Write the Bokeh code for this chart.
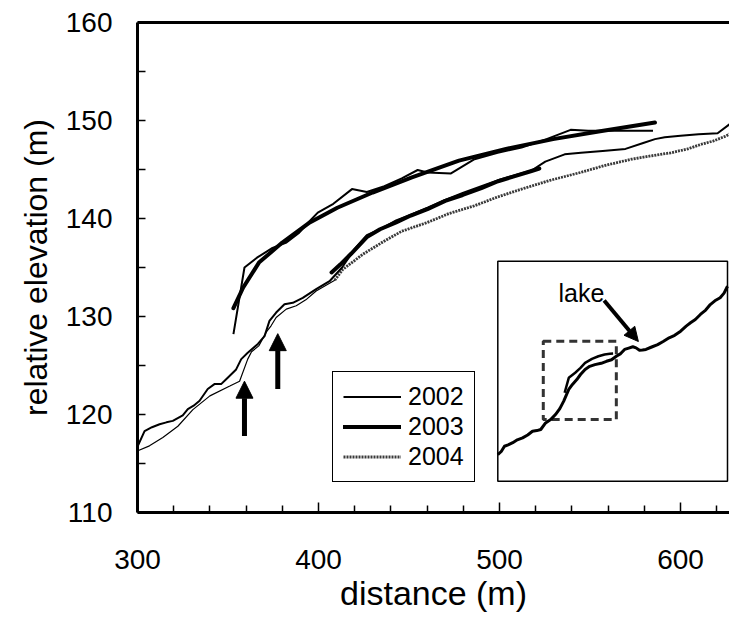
from bokeh.plotting import figure
from bokeh.models import (Range1d, LinearAxis, FixedTicker, Legend, LegendItem,
                          Arrow, NormalHead, Label, ColumnDataSource)
from bokeh.embed import file_html
from bokeh.resources import INLINE

# ---------------- data ----------------
x2002_main = [300.2, 303.9, 308, 312.2, 316, 319.5, 325, 327.8, 331, 334.3,
              338.8, 342.5, 346.2, 349, 354.5, 357.3, 360.9, 366.5, 370.2, 372.9,
              376.6, 381.2, 385.8, 391.3, 398.7, 406.1, 413, 420, 426.7, 435,
              442.9, 451, 460.2, 470, 479.7, 490, 499.2, 508, 517.7, 525.3,
              536.0, 545, 557, 569.6, 579.4, 585.9, 591.3, 600, 610, 620.5,
              627, 635.3]
y2002_main = [116.8, 118.3, 118.7, 119.0, 119.2, 119.35, 119.9, 120.55, 120.9, 121.4,
              122.6, 123.1, 123.1, 123.6, 124.6, 125.65, 126.3, 127.2, 128.0, 129.55,
              130.4, 131.25, 131.4, 131.9, 132.8, 133.6, 135.0, 136.9, 138.3, 139.0,
              139.8, 140.4, 141.1, 141.9, 142.6, 143.3, 143.9, 144.4, 144.9, 145.8,
              146.55, 146.7, 146.9, 147.1, 147.7, 148.1, 148.3, 148.45, 148.6, 148.7,
              149.6, 149.85]

x2002_upper = [353.0, 359.1, 366.0, 374.6, 382.3, 389, 395.2, 399.6, 408.2, 418.5,
               426.7, 436.4, 446, 454.8, 460.2, 473.2, 486.2, 499, 512.2, 526,
               539.3, 549.0, 565, 584.8]
y2002_upper = [128.2, 135.0, 136.0, 137.0, 137.55, 138.5, 139.75, 140.6, 141.5, 143.0,
               142.7, 143.3, 144.1, 144.95, 144.7, 144.6, 146.05, 146.7, 147.25, 148.1,
               149.05, 148.95, 148.95, 148.95]

x2003_upper = [353.0, 358.4, 367.1, 380.0, 395.2, 410.4, 429.9, 451.6, 477.6, 503.6,
               529.6, 555.6, 585.9]
y2003_upper = [130.85, 132.96, 135.5, 137.55, 139.6, 141.1, 142.65, 144.2, 145.9, 147.1,
               148.1, 148.9, 149.8]

x2003_mid = [407.2, 412, 418, 426.7, 434, 442.9, 451, 460.2, 470, 479.7,
             490, 499.2, 508, 517.7, 522]
y2003_mid = [134.5, 135.3, 136.4, 138.1, 138.9, 139.6, 140.3, 140.95, 141.8, 142.4,
             143.1, 143.8, 144.3, 144.85, 145.1]

x2004 = [300.2, 306.6, 314, 322.3, 330.6, 340, 351, 356.4, 360.9, 363,
         367, 371.1, 373.8, 376.6, 382.2, 387.7, 393, 398.7, 406.1, 409,
         413.4, 424.5, 435.5, 446, 460.2, 472, 486.2, 499, 512.2, 528,
         544.8, 558, 572.9, 584, 594.6, 604, 611.9, 618, 624.9, 630, 635.3]
y2004 = [116.3, 116.8, 117.65, 118.8, 120.5, 121.9, 122.9, 123.4, 125.65, 126.4,
         127.0, 128.4, 129.05, 129.9, 130.75, 131.1, 131.7, 132.6, 133.4, 133.7,
         134.8, 136.35, 137.6, 138.7, 139.6, 140.5, 141.3, 142.2, 143.0, 143.9,
         144.7, 145.4, 146.05, 146.4, 146.7, 147.1, 147.6, 147.9, 148.4, 148.9,
         149.3]
split_2004 = 19  # where the thin lower trace turns into the dotted trace

arrow_x = [359.1, 377.5]
arrow_y_start = [117.8, 122.6]
arrow_y_end = [123.4, 128.25]

x_ticks = [300, 400, 500, 600]
x_minor = [320, 340, 360, 380, 420, 440, 460, 480, 520, 540, 560, 580, 620]
y_ticks = [110, 120, 130, 140, 150, 160]
y_minor = [115, 125, 135, 145, 155]

# inset (schematic units, 0..100 across the inset box)
inset_x = [0, 1.5, 2.9, 4.5, 6.5, 8.5, 10.8, 13, 15.1, 17,
           18.7, 20.8, 23, 25.1, 27, 28.7, 30.9, 32.5, 34.4, 36,
           38.0, 40, 42.3, 45, 47.3, 49.5, 51.6, 53.5, 55.2, 57,
           58.8, 60.2, 61.7, 63, 64.5, 67, 69.6, 72, 74.6, 77,
           79.6, 82, 83.9, 86, 88.2, 90.5, 92.5, 94.5, 96.8, 98.5, 100]
inset_y = [12.1, 13.5, 15.9, 16.5, 17.5, 18.8, 19.7, 21.0, 22.7, 23.0,
           23.5, 26.5, 28.0, 30.3, 33.0, 36.4, 41.7, 44.0, 46.2, 48.5,
           50.8, 52.2, 53.0, 53.6, 54.5, 55.2, 56.8, 58.0, 59.9, 60.5,
           61.1, 60.6, 59.5, 59.6, 59.9, 61.0, 62.1, 63.5, 65.2, 66.3,
           68.2, 70.5, 72.0, 73.5, 75.8, 77.8, 80.3, 82.0, 83.4, 85.5, 88.6]
inset_upper_x = [29.1, 30.9, 33.7, 36, 38.0, 41, 43.8, 46.5, 48.8, 50.2]
inset_upper_y = [40.2, 47.0, 49.3, 51.5, 53.8, 55.6, 56.8, 57.6, 57.9, 58.0]
inset_zoom_x = [19.8, 51.6]
inset_zoom_y = [28.0, 63.6]
lake_text_xy = [36.4, 85.7]
lake_arrow = [46.3, 82.1, 61.2, 63.5]

# ---------------- layout ----------------
FONT = "Liberation Sans"
W, H = 729, 619
FRAME_L, FRAME_T = 137, 22
FRAME_W, FRAME_H = W - FRAME_L, 490
# inset box position in frame pixels (from frame's top-left)
IN_L, IN_R, IN_T, IN_B = 360.3, 590.0, 238.7, 458.7

p = figure(width=W, height=H, output_backend="svg", toolbar_location=None,
           x_range=Range1d(300, 300 + FRAME_W / 1.81), y_range=Range1d(110, 160),
           min_border_left=FRAME_L, min_border_right=0, min_border_top=FRAME_T,
           min_border_bottom=H - FRAME_T - FRAME_H,
           x_axis_label="distance (m)", y_axis_label="relative elevation (m)")
p.outline_line_color = None
p.xgrid.visible = False
p.ygrid.visible = False
p.background_fill_color = "white"
p.border_fill_color = "white"

sx = 100.0 / (IN_R - IN_L)
sy = 100.0 / (IN_B - IN_T)
p.extra_x_ranges = {"ix": Range1d(-IN_L * sx, (FRAME_W - IN_L) * sx)}
p.extra_y_ranges = {"iy": Range1d((IN_B - FRAME_H) * sy, IN_B * sy)}

for ax in (p.xaxis[0], p.yaxis[0]):
    ax.axis_line_width = 3
    ax.axis_line_color = "black"
    ax.major_tick_out = 0
    ax.minor_tick_out = 0
    ax.major_tick_line_width = 1.5
    ax.minor_tick_line_width = 1.5
    ax.major_tick_line_color = "black"
    ax.minor_tick_line_color = "black"
    ax.major_label_text_font = FONT
    ax.major_label_text_font_size = "28px"
    ax.major_label_text_color = "black"
    ax.axis_label_text_font = FONT
    ax.axis_label_text_font_style = "normal"
    ax.axis_label_text_color = "black"

xa = p.xaxis[0]
xa.ticker = FixedTicker(ticks=x_ticks, minor_ticks=x_minor)
xa.major_tick_in = 10
xa.minor_tick_in = 7
xa.major_label_standoff = 37
xa.axis_label_standoff = 2
xa.axis_label_text_font_size = "34px"

ya = p.yaxis[0]
ya.ticker = FixedTicker(ticks=y_ticks, minor_ticks=y_minor)
ya.major_tick_in = 8
ya.minor_tick_in = 8
ya.major_label_standoff = 25
ya.axis_label_standoff = 9
ya.axis_label_text_font_size = "32px"

top = LinearAxis(ticker=FixedTicker(ticks=[]), axis_line_width=3,
                 major_label_text_font_size="0px", major_tick_line_color=None,
                 minor_tick_line_color=None, major_label_standoff=0)
p.add_layout(top, "above")

# ---------------- main profiles ----------------
p.line(x2004[:split_2004 + 1], y2004[:split_2004 + 1],
       line_color="black", line_width=1.2)
r2004 = p.line(x2004[split_2004:], y2004[split_2004:], line_color="#3a3a3a",
               line_width=2.8, line_dash="2 1")
r2002 = p.line(x2002_main, y2002_main, line_color="black", line_width=2,
               line_join="round")
p.line(x2002_upper, y2002_upper, line_color="black", line_width=2, line_join="round")
r2003 = p.line(x2003_upper, y2003_upper, line_color="black", line_width=4,
               line_join="round", line_cap="round")
p.line(x2003_mid, y2003_mid, line_color="black", line_width=4,
       line_join="round", line_cap="round")

arrows = ColumnDataSource(dict(x=arrow_x, y0=arrow_y_start, y1=arrow_y_end))
p.add_layout(Arrow(end=NormalHead(size=17, fill_color="black", line_color="black"),
                   x_start="x", y_start="y0", x_end="x", y_end="y1",
                   source=arrows, line_width=5, line_color="black"))

# ---------------- inset ----------------
p.quad(left=[0], right=[100], bottom=[0], top=[100], fill_color="white",
       line_color="black", line_width=1.5, x_range_name="ix", y_range_name="iy")
p.quad(left=[inset_zoom_x[0]], right=[inset_zoom_x[1]], bottom=[inset_zoom_y[0]],
       top=[inset_zoom_y[1]], fill_color=None, line_color="#333333", line_width=3,
       line_dash="8 5", x_range_name="ix", y_range_name="iy")
p.line(inset_upper_x, inset_upper_y, line_color="black", line_width=2.5,
       x_range_name="ix", y_range_name="iy")
p.line(inset_x, inset_y, line_color="black", line_width=3, line_join="round",
       x_range_name="ix", y_range_name="iy")
p.add_layout(Arrow(end=NormalHead(size=14, fill_color="black", line_color="black"),
                   x_start=lake_arrow[0], y_start=lake_arrow[1],
                   x_end=lake_arrow[2], y_end=lake_arrow[3],
                   line_width=4, line_color="black",
                   x_range_name="ix", y_range_name="iy"))
p.add_layout(Label(x=lake_text_xy[0], y=lake_text_xy[1], text="lake",
                   text_font=FONT, text_font_size="25px", text_align="center",
                   text_baseline="middle", text_color="black",
                   x_range_name="ix", y_range_name="iy"))

# ---------------- legend ----------------
legend = Legend(items=[LegendItem(label="2002", renderers=[r2002]),
                       LegendItem(label="2003", renderers=[r2003]),
                       LegendItem(label="2004", renderers=[r2004])],
                location=(195, 30), orientation="vertical",
                label_text_font=FONT, label_text_font_size="25px",
                label_text_color="black",
                glyph_width=58, glyph_height=29, label_height=29,
                label_standoff=7, spacing=1, padding=10, margin=0,
                border_line_color="black", border_line_width=1.5,
                border_line_alpha=1.0,
                background_fill_color="white", background_fill_alpha=1.0)
p.add_layout(legend, "center")

open("out.html", "w").write(file_html(p, INLINE))
